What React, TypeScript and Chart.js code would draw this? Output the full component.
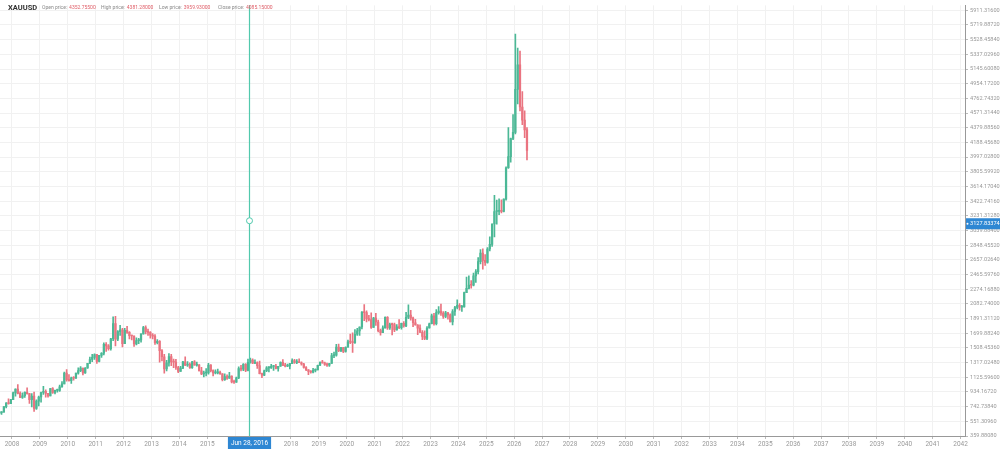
import React, { useEffect, useRef } from 'react';
import { Chart, registerables } from 'chart.js';

Chart.register(...registerables);

// First candle: July 2007, one candle per month
const START_YEAR = 2007;
const START_MONTH = 7;

const OPEN: number[] = [
  650, 665, 672, 743, 789, 783,
  834, 923, 972, 916, 864, 885, 928, 912, 833, 880, 718, 815,
  869, 927, 942, 916, 883, 979, 927, 955, 955, 1001, 1040, 1182,
  1096, 1081, 1118, 1113, 1180, 1213, 1244, 1181, 1247, 1307, 1357, 1386,
  1421, 1333, 1411, 1439, 1556, 1536, 1500, 1628, 1826, 1624, 1722, 1746,
  1565, 1737, 1711, 1669, 1664, 1560, 1604, 1614, 1692, 1773, 1719, 1712,
  1676, 1663, 1578, 1595, 1472, 1393, 1234, 1313, 1396, 1327, 1323, 1253,
  1202, 1244, 1326, 1284, 1296, 1250, 1327, 1282, 1287, 1210, 1171, 1182,
  1184, 1284, 1213, 1183, 1184, 1190, 1172, 1095, 1135, 1115, 1142, 1064,
  1061, 1118, 1238, 1233, 1293, 1215, 1322, 1351, 1309, 1316, 1277, 1173,
  1152, 1211, 1249, 1249, 1268, 1268, 1242, 1269, 1322, 1280, 1271, 1275,
  1303, 1345, 1318, 1325, 1315, 1299, 1253, 1224, 1201, 1192, 1215, 1222,
  1282, 1321, 1313, 1292, 1284, 1305, 1409, 1414, 1520, 1472, 1513, 1464,
  1517, 1589, 1585, 1577, 1687, 1730, 1781, 1975, 1968, 1886, 1879, 1776,
  1898, 1847, 1734, 1708, 1769, 1906, 1770, 1814, 1813, 1743, 1783, 1774,
  1829, 1797, 1909, 1937, 1897, 1837, 1807, 1766, 1711, 1660, 1633, 1768,
  1824, 1928, 1826, 1969, 1990, 1963, 1919, 1965, 1940, 1849, 1983, 2036,
  2063, 2039, 2044, 2230, 2286, 2327, 2326, 2447, 2503, 2634, 2744, 2650,
  2624, 2798, 2858, 3124, 3288, 3289, 3303, 3290, 3448, 3858, 4003, 4239,
  4320, 4880, 5200, 4650, 4480, 4352.755,
];

const HIGH: number[] = [
  683, 675, 745, 795, 845, 838,
  933, 975, 1032, 935, 922, 935, 988, 917, 912, 931, 832, 881,
  934, 1006, 962, 917, 982, 990, 960, 972, 1025, 1071, 1195, 1227,
  1162, 1128, 1136, 1180, 1249, 1265, 1246, 1251, 1307, 1388, 1425, 1432,
  1424, 1411, 1447, 1576, 1577, 1552, 1632, 1913, 1921, 1733, 1803, 1764,
  1764, 1791, 1720, 1677, 1666, 1640, 1633, 1692, 1790, 1796, 1755, 1723,
  1697, 1683, 1617, 1605, 1488, 1424, 1348, 1434, 1424, 1362, 1361, 1267,
  1270, 1332, 1392, 1331, 1315, 1332, 1345, 1323, 1290, 1255, 1208, 1238,
  1307, 1290, 1224, 1224, 1232, 1205, 1175, 1170, 1157, 1191, 1143, 1088,
  1127, 1263, 1283, 1304, 1304, 1362, 1375, 1367, 1352, 1326, 1337, 1180,
  1220, 1264, 1264, 1296, 1270, 1296, 1270, 1326, 1357, 1306, 1299, 1306,
  1366, 1361, 1356, 1365, 1326, 1309, 1266, 1225, 1214, 1243, 1237, 1284,
  1326, 1347, 1324, 1310, 1306, 1439, 1453, 1555, 1557, 1517, 1516, 1524,
  1611, 1689, 1704, 1748, 1765, 1785, 1984, 2075, 1992, 1933, 1966, 1906,
  1959, 1872, 1755, 1798, 1913, 1916, 1833, 1832, 1834, 1814, 1877, 1831,
  1853, 1974, 2070, 1998, 1910, 1880, 1814, 1808, 1735, 1730, 1786, 1833,
  1949, 1960, 2009, 2049, 2079, 1984, 1987, 1973, 1953, 2010, 2052, 2135,
  2088, 2065, 2236, 2432, 2450, 2388, 2484, 2531, 2686, 2790, 2801, 2726,
  2817, 2956, 3128, 3500, 3435, 3452, 3439, 3453, 3871, 4381, 4245, 4550,
  5600, 5420, 5380, 4850, 4600, 4381.28,
];

const LOW: number[] = [
  648, 642, 670, 725, 775, 782,
  834, 880, 910, 860, 850, 862, 905, 786, 740, 681, 705, 752,
  802, 903, 866, 865, 883, 915, 908, 930, 940, 998, 1040, 1075,
  1076, 1044, 1087, 1110, 1165, 1200, 1155, 1176, 1242, 1306, 1330, 1360,
  1308, 1326, 1383, 1417, 1462, 1478, 1478, 1603, 1534, 1604, 1671, 1523,
  1564, 1697, 1627, 1613, 1527, 1547, 1565, 1584, 1688, 1692, 1672, 1636,
  1626, 1555, 1562, 1322, 1338, 1180, 1208, 1271, 1277, 1251, 1227, 1187,
  1202, 1239, 1278, 1268, 1240, 1240, 1282, 1272, 1207, 1161, 1131, 1142,
  1167, 1197, 1142, 1170, 1170, 1162, 1077, 1085, 1098, 1110, 1052, 1046,
  1060, 1107, 1208, 1211, 1200, 1207, 1310, 1302, 1302, 1241, 1171, 1122,
  1146, 1198, 1195, 1240, 1214, 1236, 1205, 1267, 1277, 1261, 1264, 1236,
  1302, 1307, 1303, 1315, 1282, 1246, 1211, 1160, 1180, 1183, 1196, 1221,
  1276, 1311, 1281, 1266, 1266, 1305, 1381, 1400, 1459, 1459, 1445, 1453,
  1517, 1563, 1451, 1568, 1670, 1671, 1757, 1863, 1848, 1860, 1764, 1775,
  1802, 1717, 1676, 1706, 1765, 1750, 1750, 1678, 1721, 1741, 1759, 1753,
  1780, 1786, 1890, 1872, 1787, 1805, 1681, 1709, 1615, 1617, 1616, 1765,
  1823, 1804, 1810, 1950, 1932, 1893, 1903, 1885, 1846, 1810, 1931, 2017,
  2002, 1985, 2039, 2228, 2277, 2287, 2318, 2364, 2472, 2604, 2536, 2583,
  2615, 2772, 2833, 2957, 3121, 3247, 3268, 3281, 3436, 3850, 3930, 4225,
  4300, 4690, 4600, 4420, 4250, 3959.93,
];

const CLOSE: number[] = [
  665, 672, 743, 789, 783, 834,
  923, 972, 916, 864, 885, 928, 912, 833, 880, 718, 815, 869,
  927, 942, 916, 883, 979, 927, 955, 955, 1001, 1040, 1182, 1096,
  1081, 1118, 1113, 1180, 1213, 1244, 1181, 1247, 1307, 1357, 1386, 1421,
  1333, 1411, 1439, 1556, 1536, 1500, 1628, 1826, 1624, 1722, 1746, 1565,
  1737, 1711, 1669, 1664, 1560, 1604, 1614, 1692, 1773, 1719, 1712, 1676,
  1663, 1578, 1595, 1472, 1393, 1234, 1313, 1396, 1327, 1323, 1253, 1202,
  1244, 1326, 1284, 1296, 1250, 1327, 1282, 1287, 1210, 1171, 1182, 1184,
  1284, 1213, 1183, 1184, 1190, 1172, 1095, 1135, 1115, 1142, 1064, 1061,
  1118, 1238, 1233, 1293, 1215, 1322, 1351, 1309, 1316, 1277, 1173, 1152,
  1211, 1249, 1249, 1268, 1268, 1242, 1269, 1322, 1280, 1271, 1275, 1303,
  1345, 1318, 1325, 1315, 1299, 1253, 1224, 1201, 1192, 1215, 1222, 1282,
  1321, 1313, 1292, 1284, 1305, 1409, 1414, 1520, 1472, 1513, 1464, 1517,
  1589, 1585, 1577, 1687, 1730, 1781, 1975, 1968, 1886, 1879, 1776, 1898,
  1847, 1734, 1708, 1769, 1906, 1770, 1814, 1813, 1743, 1783, 1774, 1829,
  1797, 1909, 1937, 1897, 1837, 1807, 1766, 1711, 1660, 1633, 1768, 1824,
  1928, 1826, 1969, 1990, 1963, 1919, 1965, 1940, 1849, 1983, 2036, 2063,
  2039, 2044, 2230, 2286, 2327, 2326, 2447, 2503, 2634, 2744, 2650, 2624,
  2798, 2858, 3124, 3288, 3289, 3303, 3290, 3448, 3858, 4003, 4239, 4320,
  4880, 5200, 4650, 4480, 4352.755, 4085.15,
];

const YEAR_TICKS: number[] = [
  2008, 2009, 2010, 2011, 2012, 2013, 2014, 2015, 2016, 2017, 2018, 2019,
  2020, 2021, 2022, 2023, 2024, 2025, 2026, 2027, 2028, 2029, 2030, 2031,
  2032, 2033, 2034, 2035, 2036, 2037, 2038, 2039, 2040, 2041, 2042,
];

const PRICE_TICKS: number[] = [
  359.8808, 551.3096, 742.7384, 934.1672, 1125.596, 1317.0248, 1508.4536,
  1699.8824, 1891.3112, 2082.74, 2274.1688, 2465.5976, 2657.0264, 2848.4552,
  3039.884, 3231.3128, 3422.7416, 3614.1704, 3805.5992, 3997.028, 4188.4568,
  4379.8856, 4571.3144, 4762.7432, 4954.172, 5145.6008, 5337.0296, 5528.4584,
  5719.8872, 5911.316,
];

const SYMBOL = 'XAUUSD';
const LEGEND_LABELS = ['Open price:', 'High price:', 'Low price:', 'Close price:'];
const LEGEND_VALUES = ['4352.75500', '4381.28000', '3959.93000', '4085.15000'];
const CROSSHAIR_DATE = 2016 + 179 / 366;
const CROSSHAIR_DATE_LABEL = 'Jun 28, 2016';
const CROSSHAIR_PRICE = 3127.83374;
const CROSSHAIR_PRICE_LABEL = '3127.83374';

const X_MIN = 2007.57;
const X_MAX = 2042.158;
const Y_MIN = 359.8808;
const Y_MAX = 5975.7;

const UP = '#4cb896';
const DOWN = '#ea7480';
const CROSS = '#52c9ad';
const BLUE = '#2e87d3';

function monthPos(i: number): number {
  const m = START_MONTH - 1 + i;
  const y = START_YEAR + Math.floor(m / 12);
  return y + ((m % 12) + 0.5) / 12;
}

const overlay = {
  id: 'overlay',
  afterDraw(chart: any) {
    const ctx = chart.ctx as CanvasRenderingContext2D;
    const xs = chart.scales.x;
    const ys = chart.scales.y;
    const area = chart.chartArea;
    ctx.save();
    // crosshair
    const cx = Math.round(xs.getPixelForValue(CROSSHAIR_DATE)) + 0.5;
    const cy = ys.getPixelForValue(CROSSHAIR_PRICE);
    ctx.strokeStyle = CROSS;
    ctx.lineWidth = 1.2;
    ctx.beginPath();
    ctx.moveTo(cx, area.top);
    ctx.lineTo(cx, area.bottom);
    ctx.stroke();
    ctx.lineWidth = 1;
    ctx.beginPath();
    ctx.arc(cx, cy - 3, 3, 0, Math.PI * 2);
    ctx.fillStyle = '#fff';
    ctx.fill();
    ctx.stroke();

    // date label
    ctx.font = '6.5px Roboto, sans-serif';
    const dw = ctx.measureText(CROSSHAIR_DATE_LABEL).width + 6;
    ctx.fillStyle = BLUE;
    ctx.fillRect(cx - dw / 2, area.bottom + 1, dw, 12);
    ctx.fillStyle = '#fff';
    ctx.textAlign = 'center';
    ctx.textBaseline = 'middle';
    ctx.fillText(CROSSHAIR_DATE_LABEL, cx, area.bottom + 7);

    // price label
    ctx.fillStyle = BLUE;
    ctx.fillRect(area.right + 1, cy - 5.5, chart.width - area.right - 1, 11);
    ctx.fillStyle = '#fff';
    ctx.font = '5.6px Roboto, sans-serif';
    ctx.textAlign = 'left';
    ctx.fillText(CROSSHAIR_PRICE_LABEL, area.right + 5, cy);
    ctx.beginPath();
    ctx.arc(area.right + 2.5, cy, 1, 0, Math.PI * 2);
    ctx.fill();

    // legend
    ctx.textBaseline = 'middle';
    ctx.fillStyle = '#333';
    ctx.font = 'bold 7.5px Roboto, sans-serif';
    ctx.fillText(SYMBOL, 8, 8);
    const starts = [42, 101, 159, 218];
    ctx.font = '5px Roboto, sans-serif';
    LEGEND_LABELS.forEach((lab, i) => {
      ctx.fillStyle = '#888';
      ctx.fillText(lab, starts[i], 8);
      const w = ctx.measureText(lab).width;
      ctx.fillStyle = '#e0606a';
      ctx.fillText(LEGEND_VALUES[i], starts[i] + w + 2, 8);
    });
    ctx.restore();
  },
};

export default function App() {
  const ref = useRef<HTMLCanvasElement | null>(null);
  useEffect(() => {
    if (!ref.current) return;
    const colors = CLOSE.map((c, i) => (c >= OPEN[i] ? UP : DOWN));
    const wicks = CLOSE.map((_, i) => ({ x: monthPos(i), y: [LOW[i], HIGH[i]] }));
    const bodies = CLOSE.map((c, i) => ({ x: monthPos(i), y: [OPEN[i], c] }));
    const chart = new Chart(ref.current, {
      type: 'bar',
      data: {
        datasets: [
          {
            data: wicks as any,
            backgroundColor: colors,
            barThickness: 1,
            grouped: false,
          } as any,
          {
            data: bodies as any,
            backgroundColor: colors,
            barThickness: 1.6,
            minBarLength: 1,
            grouped: false,
          } as any,
        ],
      },
      options: {
        animation: false,
        responsive: false,
        maintainAspectRatio: false,
        layout: { padding: 0 },
        plugins: { legend: { display: false }, tooltip: { enabled: false } },
        scales: {
          x: {
            type: 'linear',
            min: X_MIN,
            max: X_MAX,
            offset: false,
            grid: { color: '#f1f1f1', offset: false, tickLength: 3, tickColor: '#bbb' },
            border: { color: '#999' },
            ticks: {
              autoSkip: false,
              maxRotation: 0,
              color: '#999',
              padding: 1,
              font: { size: 6.5, family: 'Roboto, sans-serif' },
              callback: (v: any) => String(v),
            },
            afterBuildTicks: (s: any) => {
              s.ticks = YEAR_TICKS.map((v) => ({ value: v }));
            },
            afterFit: (s: any) => {
              s.height = 13;
            },
          },
          y: {
            type: 'linear',
            position: 'right',
            min: Y_MIN,
            max: Y_MAX,
            grid: { color: '#f1f1f1', tickLength: 3, tickColor: '#bbb' },
            border: { color: '#999' },
            ticks: {
              autoSkip: false,
              color: '#999',
              padding: 2,
              font: { size: 5.6, family: 'Roboto, sans-serif' },
              callback: (v: any) => Number(v).toFixed(5),
            },
            afterBuildTicks: (s: any) => {
              s.ticks = PRICE_TICKS.map((v) => ({ value: v }));
            },
            afterFit: (s: any) => {
              s.width = 35;
            },
          },
        },
      } as any,
      plugins: [overlay],
    });
    return () => chart.destroy();
  }, []);
  return (
    <div style={{ position: 'absolute', left: 0, top: 0, width: 1000, height: 449, background: '#fff' }}>
      <canvas ref={ref} width={1000} height={449} style={{ display: 'block' }} />
    </div>
  );
}
